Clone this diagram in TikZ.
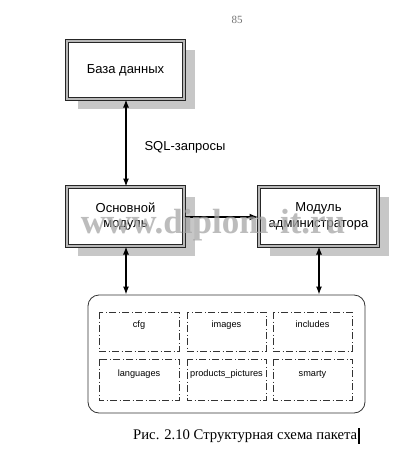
\documentclass[tikz,border=0pt]{standalone}
\usepackage{fontspec}
\setmainfont{Liberation Serif}
\newfontfamily\arialf{Liberation Sans}
\usetikzlibrary{arrows.meta}
\begin{document}
\begin{tikzpicture}[x=1pt,y=-1pt,
  shadowbox/.style={fill=black!22,draw=none},
  mainbox/.style={draw=black!85,line width=0.8pt,double=black!28,double distance=1.8pt,fill=white},
  boxtext/.style={font=\arialf\fontsize{13}{15.5}\selectfont,align=center},
  dirbox/.style={draw=black!80,line width=0.7pt,dash pattern=on 7pt off 2.5pt on 1pt off 2.5pt},
  dirtext/.style={font=\arialf\fontsize{9.2}{11}\selectfont,text height=7pt,text depth=2pt},
  arr/.style={line width=1.2pt,{Latex[length=8pt,width=6pt]}-{Latex[length=8pt,width=6pt]}},
]
\useasboundingbox (0,0) rectangle (414,460);
\fill[white] (0,0) rectangle (414,460);
\node[text=black!55,font=\fontsize{11}{13}\selectfont] (pg) at (237,20) {85};
% shadows
\fill[shadowbox] (78,50) rectangle (195,109);
\fill[shadowbox] (78,197) rectangle (195,256);
\fill[shadowbox] (270,197) rectangle (389,256);
% boxes
\draw[mainbox] (67,41) rectangle (184,99);
\node[boxtext] (db) at (125.5,70) {База данных};
\coordinate (dbs) at (126,99.5);
\draw[mainbox] (67,187) rectangle (184,246);
\node[boxtext] (core) at (125.5,216.5) {Основной\\модуль};
\coordinate (coren) at (126,186.5);
\coordinate (cores) at (126,246.5);
\coordinate (coree) at (184.5,217);
\draw[mainbox] (259,187) rectangle (378,246);
\node[boxtext] (adm) at (318.5,216.5) {Модуль\\администратора};
\coordinate (admw) at (258.5,217);
\coordinate (adms) at (319,246.5);
% container
\draw[line width=0.8pt,draw=black!80,rounded corners=11pt] (88,295) rectangle (365,413);
\coordinate (c1) at (126,294.5);
\coordinate (c2) at (319,294.5);
% arrows
\draw[arr] (dbs) -- (coren);
\node[anchor=west,font=\arialf\fontsize{13}{15.5}\selectfont] (sql) at (141,147) {SQL-запросы};
\draw[line width=2pt,-{Latex[length=9pt,width=7pt]}] (coree) -- (admw);
\draw[arr] (cores) -- (c1);
\draw[arr] (adms) -- (c2);
% directory boxes
\draw[dirbox] (99,312) rectangle (179,351);
\draw[dirbox] (187,312) rectangle (266,351);
\draw[dirbox] (273,312) rectangle (352,351);
\draw[dirbox] (99,359) rectangle (179,400);
\draw[dirbox] (187,359) rectangle (266,400);
\draw[dirbox] (273,359) rectangle (352,400);
\node[dirtext] (d1) at (139,325) {cfg};
\node[dirtext] (d2) at (226.5,325) {images};
\node[dirtext] (d3) at (312.5,325) {includes};
\node[dirtext] (d4) at (139,374) {languages};
\node[dirtext] (d5) at (226.5,374) {products\_pictures};
\node[dirtext] (d6) at (312.5,374) {smarty};
% caption
\node[anchor=west,font=\fontsize{14.7}{17}\selectfont,inner sep=0pt] (cap) at (133,436) {Рис. 2.10 Структурная схема пакета};
\draw[line width=1.2pt] ([xshift=1.5pt]cap.east) ++(0,-8) -- ++(0,16);
% watermark
\node[font=\bfseries\fontsize{35}{38}\selectfont,text=black!35,opacity=0.75] (wm) at (213,225) {www.diplom-it.ru};
\end{tikzpicture}
\end{document}
